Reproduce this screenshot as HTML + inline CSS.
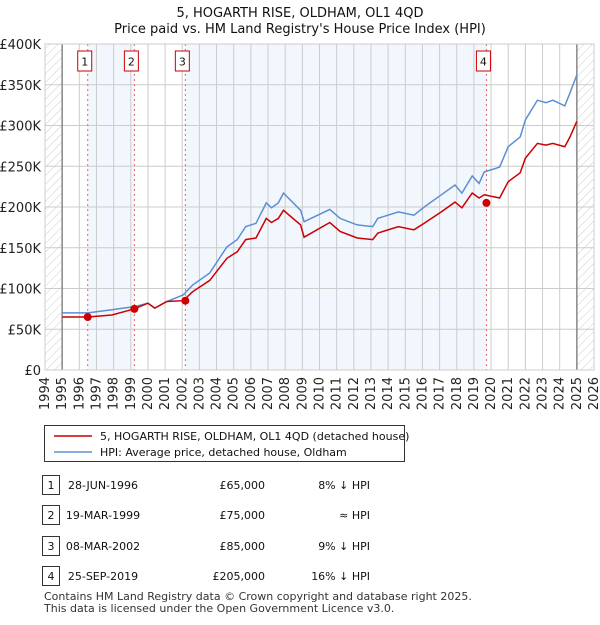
<!DOCTYPE html>
<html><head><meta charset="utf-8"><style>
body{margin:0;background:#fff;font-family:"Liberation Sans","DejaVu Sans",sans-serif;}
svg text{font-family:"DejaVu Sans","Liberation Sans",sans-serif;}
</style></head><body>
<svg id="c" width="600" height="620" xmlns="http://www.w3.org/2000/svg"></svg>
<script>
const hpiYears=[1995.0,1996.5,1997.9,1999.2,2000.0,2000.4,2001.1,2002.05,2002.6,2003.6,2004.6,2005.2,2005.7,2006.3,2006.9,2007.2,2007.6,2007.9,2008.9,2009.1,2010.6,2011.2,2012.2,2013.1,2013.4,2014.6,2015.5,2016.1,2017.1,2017.9,2018.3,2018.9,2019.3,2019.6,2020.5,2021.0,2021.7,2022.0,2022.7,2023.2,2023.6,2024.3,2024.6,2025.0];
const hpiValues=[70,70,74,77.7,82,76,84,92,104,119,151,160,176,180,205,199,205,217,196,182,197,186,178,176,186,194,190,200,215,227,217,238,229,243,249,274,286,307,331,328,331,324,340,362];
const priceValues=[65,65,67.5,75,82,76,84,85,96,110,137,145,160,162,186,181,186,196,178,163,181,170,162,160,168,176,172,180,194,206,199,217,211,215,211,231,242,260,278,276,278,274,286,305];
const saleYears=[1996.49,1999.21,2002.18,2019.73];
const saleValues=[65,75,85,205];
const saleLabels=["1","2","3","4"];
const yTicks=[0,50,100,150,200,250,300,350,400];
const yTickLabels=["£0","£50K","£100K","£150K","£200K","£250K","£300K","£350K","£400K"];
const xYears=[1994,1995,1996,1997,1998,1999,2000,2001,2002,2003,2004,2005,2006,2007,2008,2009,2010,2011,2012,2013,2014,2015,2016,2017,2018,2019,2020,2021,2022,2023,2024,2025,2026];

const NS="http://www.w3.org/2000/svg";
const svg=document.getElementById('c');
const L=45,R=594,T=44,B=370;
const x=y=>L+(y-1994)/32*(R-L);
const yv=v=>B-v/400*(B-T);
function mk(t,a,p){const e=document.createElementNS(NS,t);for(const k in a)e.setAttribute(k,a[k]);(p||svg).appendChild(e);return e;}

const defs=mk('defs',{});
const pat=mk('pattern',{id:'h',width:6,height:6,patternUnits:'userSpaceOnUse',patternTransform:'rotate(45)'},defs);
mk('line',{x1:0,y1:0,x2:0,y2:6,stroke:'#ccc','stroke-width':1},pat);

// shading
let s=mk('rect',{x:x(saleYears[0]),y:T,width:x(saleYears[1])-x(saleYears[0]),height:B-T,fill:'#f2f6fd'});

s=mk('rect',{x:x(saleYears[2]),y:T,width:x(saleYears[3])-x(saleYears[2]),height:B-T,fill:'#f2f6fd'});

s=mk('rect',{x:L,y:T,width:x(1995)-L,height:B-T,fill:'url(#h)'});

s=mk('rect',{x:x(2025),y:T,width:R-x(2025),height:B-T,fill:'url(#h)'});


// grid
xYears.forEach(yr=>{let g=mk('line',{x1:x(yr),x2:x(yr),y1:T,y2:B,stroke:'#ccc','stroke-width':1});

let t=mk('text',{x:0,y:0,'font-size':13,fill:'#222','text-anchor':'end',transform:`translate(${x(yr)+4},${B+7}) rotate(-90)`});
t.textContent=yr;});
yTicks.forEach((v,i)=>{let g=mk('line',{x1:L,x2:R,y1:yv(v),y2:yv(v),stroke:'#ccc','stroke-width':1});

let t=mk('text',{x:L-4,y:yv(v)+5,'font-size':13,fill:'#222','text-anchor':'end'});
t.textContent=yTickLabels[i];});
[x(1995),x(2025)].forEach(px=>{let g=mk('line',{x1:px,x2:px,y1:T,y2:B,stroke:'#888','stroke-width':1.5});
});

// sale vlines and labels
saleYears.forEach((yr,i)=>{let g=mk('line',{x1:x(yr),x2:x(yr),y1:T,y2:B,stroke:'#e06666','stroke-width':1,'stroke-dasharray':'2,3'});

let r=mk('rect',{x:x(yr)-10,y:51,width:14,height:20,fill:'#fff',stroke:'#c00','stroke-width':1});

let t=mk('text',{x:x(yr)-3,y:65.5,'font-size':11,'text-anchor':'middle',fill:'#111'});
t.textContent=saleLabels[i];});

const pts=(vals)=>hpiYears.map((yr,i)=>x(yr).toFixed(1)+','+yv(vals[i]).toFixed(1)).join(' ');
let p=mk('polyline',{points:pts(hpiValues),fill:'none',stroke:'#5b8fd4','stroke-width':1.5});

p=mk('polyline',{points:pts(priceValues),fill:'none',stroke:'#cc0000','stroke-width':1.5});

saleYears.forEach((yr,i)=>{let c=mk('circle',{cx:x(yr),cy:yv(saleValues[i]),r:4,fill:'#cc0000'});
});
let ax=mk('rect',{x:L,y:T,width:R-L,height:B-T,fill:'none',stroke:'#ccc'});


// titles
let t1=mk('text',{x:300,y:17,'font-size':13,'text-anchor':'middle',fill:'#111'});t1.textContent='5, HOGARTH RISE, OLDHAM, OL1 4QD';

let t2=mk('text',{x:300,y:33,'font-size':13,'text-anchor':'middle',fill:'#111'});t2.textContent="Price paid vs. HM Land Registry's House Price Index (HPI)";


// legend
let lg=mk('rect',{x:44.5,y:425.5,width:360,height:36,fill:'#fff',stroke:'#333'});
mk('line',{x1:54,x2:92,y1:436,y2:436,stroke:'#cc0000','stroke-width':1.5});
mk('line',{x1:54,x2:92,y1:452,y2:452,stroke:'#5b8fd4','stroke-width':1.5});
let l1=mk('text',{x:100,y:440,'font-size':11,fill:'#111'});l1.textContent='5, HOGARTH RISE, OLDHAM, OL1 4QD (detached house)';

let l2=mk('text',{x:100,y:456,'font-size':11,fill:'#111'});l2.textContent='HPI: Average price, detached house, Oldham';


// table
const dates=["28-JUN-1996","19-MAR-1999","08-MAR-2002","25-SEP-2019"];
const prices=["£65,000","£75,000","£85,000","£205,000"];
const rel=["8% ↓ HPI","≈ HPI","9% ↓ HPI","16% ↓ HPI"];
const rowsY=[485,515,546,576];
rowsY.forEach((ry,i)=>{
 let b=mk('rect',{x:42.5,y:ry-9.5,width:17,height:19,fill:'#fff',stroke:'#333'});
 let n=mk('text',{x:51,y:ry+4,'font-size':11,'text-anchor':'middle',fill:'#111'});n.textContent=saleLabels[i];
 let d=mk('text',{x:103,y:ry+4,'font-size':11,'text-anchor':'middle',fill:'#111'});d.textContent=dates[i];
 let pr=mk('text',{x:265,y:ry+4,'font-size':11,'text-anchor':'end',fill:'#111'});pr.textContent=prices[i];
 let h=mk('text',{x:370,y:ry+4,'font-size':11,'text-anchor':'end',fill:'#111'});h.textContent=rel[i];
});
let f1=mk('text',{x:44,y:600,'font-size':11,fill:'#333'});f1.textContent='Contains HM Land Registry data © Crown copyright and database right 2025.';

let f2=mk('text',{x:44,y:612,'font-size':11,fill:'#333'});f2.textContent='This data is licensed under the Open Government Licence v3.0.';

</script>
</body></html>
